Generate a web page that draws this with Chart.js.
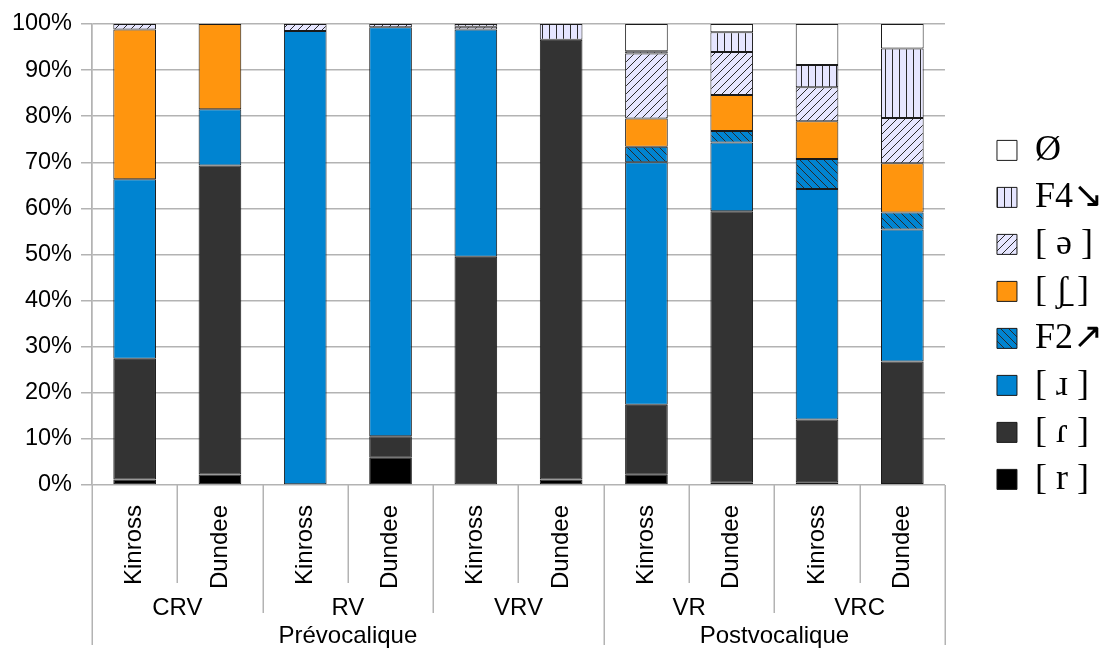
<!DOCTYPE html>
<html>
<head>
<meta charset="utf-8">
<script src="https://cdn.jsdelivr.net/npm/chart.js@4.4.1/dist/chart.umd.min.js"></script>
<style>
  body { margin: 0; background: #fff; }
  #wrap { width: 1099px; height: 651px; position: relative; }
</style>
</head>
<body>
<div id="wrap"><canvas id="chart"></canvas></div>
<script>
// categories (bars) and the two upper levels of the x axis
const categories = ['Kinross', 'Dundee', 'Kinross', 'Dundee', 'Kinross', 'Dundee', 'Kinross', 'Dundee', 'Kinross', 'Dundee'];
const groupLabels = ['CRV', 'RV', 'VRV', 'VR', 'VRC'];
const superLabels = ['Prévocalique', 'Postvocalique'];
const superSpan = [3, 2]; // number of groups under each upper label

// series values in % (bottom to top of the stack)
const r_trill = [1.2, 2.3, 0, 5.9, 0, 1.2, 2.2, 0.5, 0.6, 0.2];
const r_tap = [26.2, 67.0, 0, 4.7, 49.5, 95.4, 15.2, 58.9, 13.6, 26.6];
const r_approx = [38.9, 12.2, 98.5, 88.7, 49.3, 0, 52.6, 14.9, 50.0, 28.6];
const f2Rise = [0, 0, 0, 0, 0, 0, 3.4, 2.5, 6.5, 3.7];
const esh = [32.5, 18.5, 0, 0, 0, 0, 6.1, 7.8, 8.2, 10.7];
const schwa = [1.2, 0, 1.5, 0.7, 0.6, 0, 14.1, 9.3, 7.4, 9.8];
const f4Fall = [0, 0, 0, 0, 0.6, 3.4, 0.5, 4.3, 4.8, 15.1];
const zero = [0, 0, 0, 0, 0, 0, 5.9, 1.8, 8.9, 5.3];

const yTicks = [0, 10, 20, 30, 40, 50, 60, 70, 80, 90, 100];

const canvas = document.getElementById('chart');
const mainCtx = canvas.getContext('2d');

// small tiles for the hatched fills
function hatch(bg, kind) {
    const s = kind === 'vert' ? 7 : 8;
    const tile = document.createElement('canvas');
    tile.width = s;
    tile.height = s;
    const g = tile.getContext('2d');
    g.fillStyle = bg;
    g.fillRect(0, 0, s, s);
    g.strokeStyle = '#2a2a2a';
    g.lineWidth = 1;
    g.beginPath();
    if (kind === 'vert') {
        g.moveTo(3.5, 0); g.lineTo(3.5, s);
    } else if (kind === 'up') {
        g.moveTo(-1, s + 1); g.lineTo(s + 1, -1);
        g.moveTo(-1, 1); g.lineTo(1, -1);
        g.moveTo(s - 1, s + 1); g.lineTo(s + 1, s - 1);
    } else {
        g.moveTo(-1, -1); g.lineTo(s + 1, s + 1);
        g.moveTo(s - 1, -1); g.lineTo(s + 1, 1);
        g.moveTo(-1, s - 1); g.lineTo(1, s + 1);
    }
    g.stroke();
    return mainCtx.createPattern(tile, 'repeat');
}

const lavender = '#e6e6ff';
const orange = '#ff950e';
const blue = '#0084d1';
const sans = '"Liberation Sans", Arial, sans-serif';

function ds(label, data, fill) {
    return {
        label: label,
        data: data,
        backgroundColor: fill,
        borderColor: '#1a1a1a',
        borderWidth: 1,
        borderSkipped: false
    };
}

// lines between categories and the group / upper labels under the axis
const groupAxis = {
    id: 'groupAxis',
    afterDraw(chart) {
        const xs = chart.scales.x;
        const ctx = chart.ctx;
        const top = chart.chartArea.bottom;
        const step = (xs.right - xs.left) / categories.length;
        const superBreaks = [0];
        let acc = 0;
        superSpan.forEach(n => { acc += n * 2; superBreaks.push(acc); });

        ctx.save();
        ctx.strokeStyle = '#b3b3b3';
        ctx.lineWidth = 1.5;
        for (let i = 0; i <= categories.length; i++) {
            const x = Math.round(xs.left + i * step) + 0.25;
            let len = 98;
            if (i % 2 === 0) len = 128;
            if (superBreaks.includes(i)) len = 160;
            ctx.beginPath();
            ctx.moveTo(x, top);
            ctx.lineTo(x, top + len);
            ctx.stroke();
        }

        ctx.fillStyle = '#000';
        ctx.font = '24px ' + sans;
        ctx.textAlign = 'center';
        ctx.textBaseline = 'alphabetic';
        groupLabels.forEach((g, k) => {
            const x = (xs.getPixelForValue(2 * k) + xs.getPixelForValue(2 * k + 1)) / 2;
            ctx.fillText(g, x, top + 130);
        });
        let start = 0;
        superLabels.forEach((s, k) => {
            const end = start + superSpan[k] * 2;
            const x = xs.left + (start + end) / 2 * step;
            ctx.fillText(s, x, top + 158);
            start = end;
        });
        ctx.restore();
    }
};

new Chart(canvas, {
    type: 'bar',
    data: {
        labels: categories,
        datasets: [
            ds('[ r ]', r_trill, '#000000'),
            ds('[ ɾ ]', r_tap, '#333333'),
            ds('[ ɹ ]', r_approx, blue),
            ds('F2↗', f2Rise, hatch(blue, 'down')),
            ds('[ ʃ̠ ]', esh, orange),
            ds('[ ə ]', schwa, hatch(lavender, 'up')),
            ds('F4↘', f4Fall, hatch(lavender, 'vert')),
            ds('Ø', zero, '#ffffff')
        ]
    },
    options: {
        responsive: true,
        maintainAspectRatio: false,
        animation: false,
        layout: { padding: { top: 24, right: -14, bottom: 0, left: 0 } },
        datasets: { bar: { barPercentage: 0.5, categoryPercentage: 1 } },
        plugins: {
            legend: {
                position: 'right',
                align: 'start',
                reverse: true,
                title: { display: true, text: '', padding: { top: 0, bottom: 83 } },
                labels: {
                    color: '#000',
                    font: { family: '"Liberation Serif", "Times New Roman", serif', size: 36 },
                    boxWidth: 20,
                    boxHeight: 20,
                    padding: 11
                }
            },
            tooltip: { enabled: false }
        },
        scales: {
            x: {
                stacked: true,
                afterFit: function (scale) { scale.height = 166; },
                grid: {
                    offset: true,
                    drawTicks: false,
                    lineWidth: 1.5,
                    color: function (c) {
                        return (c.index === 0 || c.index === categories.length) ? '#b3b3b3' : 'rgba(0,0,0,0)';
                    }
                },
                border: { display: false },
                ticks: {
                    minRotation: 90,
                    maxRotation: 90,
                    padding: 20,
                    color: '#000',
                    font: { family: sans, size: 24 }
                }
            },
            y: {
                stacked: true,
                min: 0,
                max: 100,
                afterFit: function (scale) { scale.width = 92; },
                afterBuildTicks: function (scale) { scale.ticks = yTicks.map(v => ({ value: v })); },
                grid: { color: '#b3b3b3', lineWidth: 1.5, tickLength: 11 },
                border: { color: '#b3b3b3', width: 1.5 },
                ticks: {
                    padding: 9,
                    color: '#000',
                    font: { family: sans, size: 23.5 },
                    callback: function (v) { return v + '%'; }
                }
            },
            gap: {
                type: 'linear',
                position: 'right',
                display: true,
                afterFit: function (scale) { scale.width = 41; },
                grid: { display: false },
                border: { display: false },
                ticks: { display: false }
            }
        }
    },
    plugins: [groupAxis]
});
</script>
</body>
</html>
